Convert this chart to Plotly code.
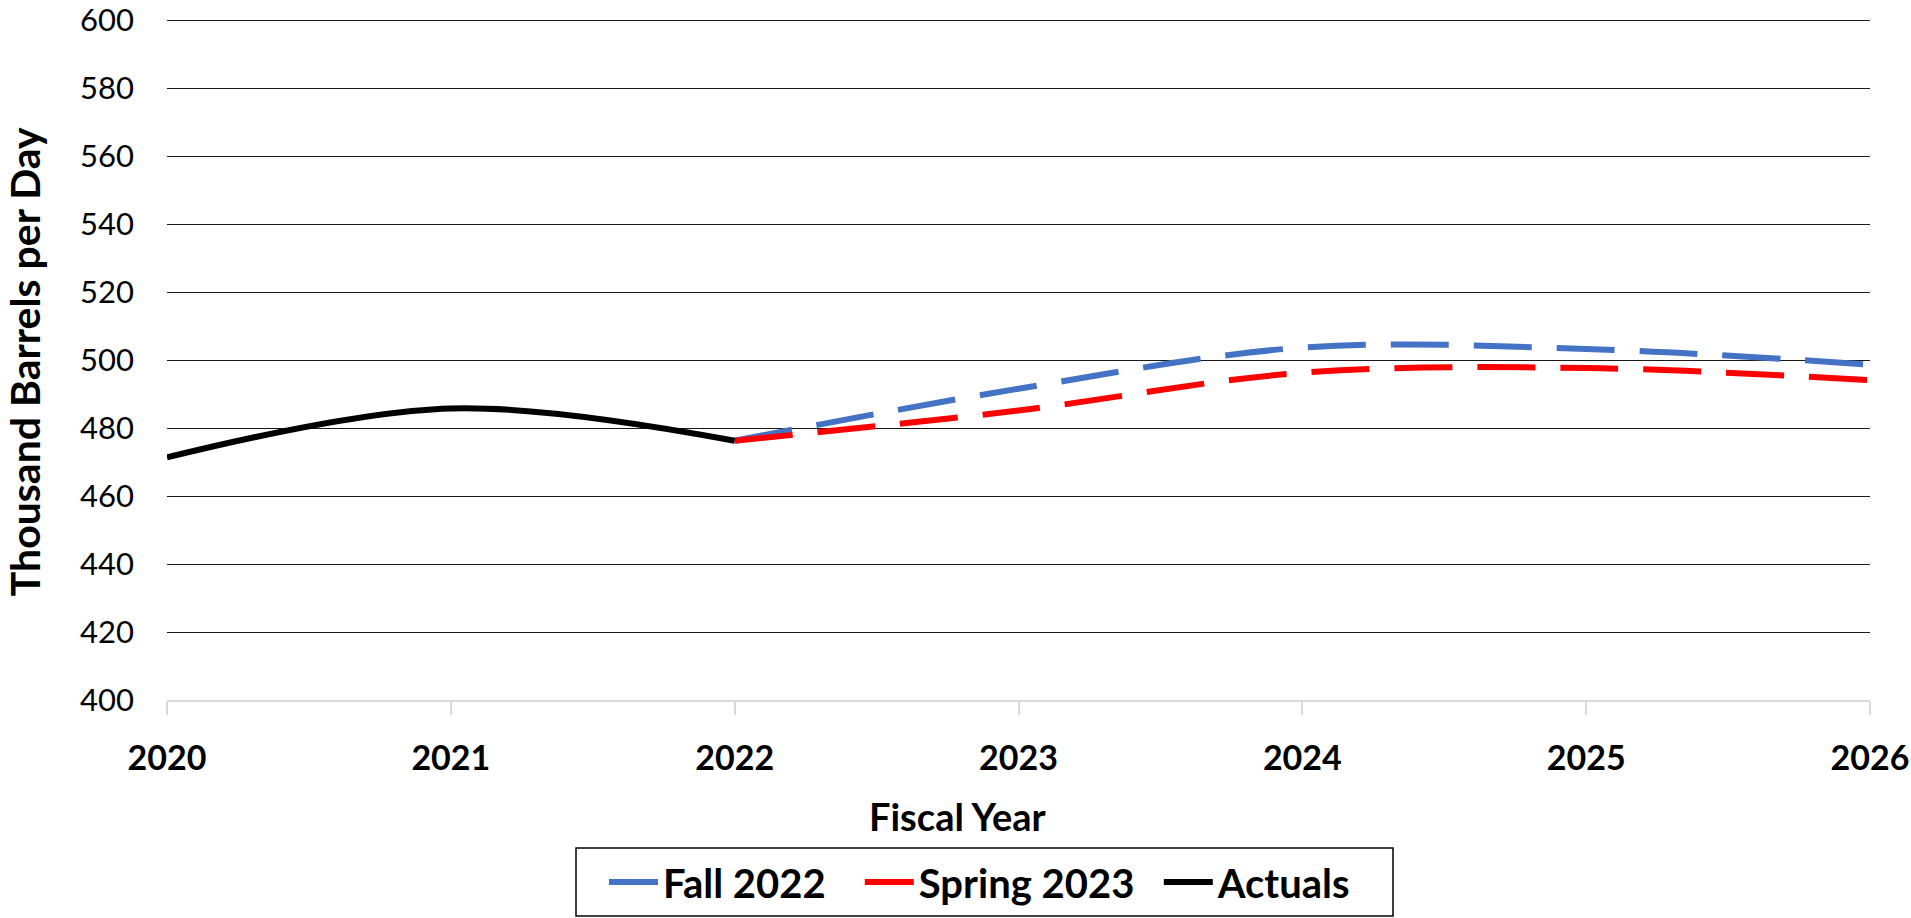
import plotly.graph_objects as go

years_actual = [2020, 2021, 2022]
actuals = [471.4, 485.8, 476.3]

years_fc = [2022, 2023, 2024, 2025, 2026]
fall_2022 = [476.3, 491.6, 503.7, 503.3, 498.7]
spring_2023 = [476.3, 485.2, 496.3, 497.7, 494.1]

y_ticks = list(range(400, 601, 20))
x_ticks = [2020, 2021, 2022, 2023, 2024, 2025, 2026]

FONT = "Lato"
NB = "\u00a0"

# plot area geometry (px): 600 sits at y=20, 400 at y=700; range slightly above 600
Y_TOP = 600.4
L, R, B = 167, 1870, 700
H = (B - 20) * (Y_TOP - 400) / 200
T = B - H
W = R - L


def px(x):
    return (x - L) / W


def py(y):
    return (B - y) / H


fig = go.Figure()
fig.add_trace(go.Scatter(x=years_fc, y=fall_2022, name="Fall 2022" + NB * 3, mode="lines",
                         line=dict(color="#4472C4", width=6, dash="58px,25px", shape="spline", smoothing=1)))
fig.add_trace(go.Scatter(x=years_fc, y=spring_2023, name="Spring 2023" + NB * 2, mode="lines",
                         line=dict(color="#FF0000", width=6, dash="58px,25px", shape="spline", smoothing=1)))
fig.add_trace(go.Scatter(x=years_actual, y=actuals, name="Actuals", mode="lines",
                         line=dict(color="#000000", width=6, shape="spline", smoothing=1)))

fig.update_layout(
    width=1911, height=918,
    margin=dict(l=L, r=1911 - R, t=T, b=918 - B, autoexpand=False),
    paper_bgcolor="white", plot_bgcolor="white",
    font=dict(family=FONT, color="black"),
    showlegend=True,
    legend=dict(orientation="h", x=px(604), xanchor="left", y=py(882), yanchor="middle",
                bgcolor="rgba(0,0,0,0)", borderwidth=0,
                font=dict(size=40, family=FONT, weight="bold"),
                itemwidth=49, tracegroupgap=0),
    xaxis=dict(range=[2020, 2026], tickvals=x_ticks, ticktext=[str(v) for v in x_ticks],
               showgrid=False, zeroline=False, showline=True, linecolor="#D9D9D9", linewidth=1.5,
               ticks="outside", ticklen=13, tickcolor="#D9D9D9", tickwidth=1.5,
               tickfont=dict(size=34, family=FONT, weight="bold"), ticklabelstandoff=14),
    yaxis=dict(range=[400, Y_TOP], tickvals=y_ticks, showgrid=True, gridcolor="#1a1a1a", gridwidth=1,
               zeroline=False, showline=False, ticks="", ticklabeloverflow="allow",
               tickfont=dict(size=31, family=FONT), ticklabelstandoff=32),
    shapes=[
        dict(type="rect", xref="paper", yref="paper", x0=px(576), x1=px(1393), y0=py(848), y1=py(916),
             line=dict(color="black", width=1.5), fillcolor="rgba(0,0,0,0)", layer="below"),
    ],
    annotations=[
        dict(text="<b>Fiscal Year</b>", xref="paper", yref="paper", x=px(957), y=py(816),
             xanchor="center", yanchor="middle", showarrow=False, font=dict(size=38, family=FONT)),
        dict(text="<b>Thousand Barrels per Day</b>", xref="paper", yref="paper", x=px(24), y=py(362),
             xanchor="center", yanchor="middle", textangle=-90, showarrow=False,
             font=dict(size=41, family=FONT)),
    ],
)

fig.write_html("out.html")
